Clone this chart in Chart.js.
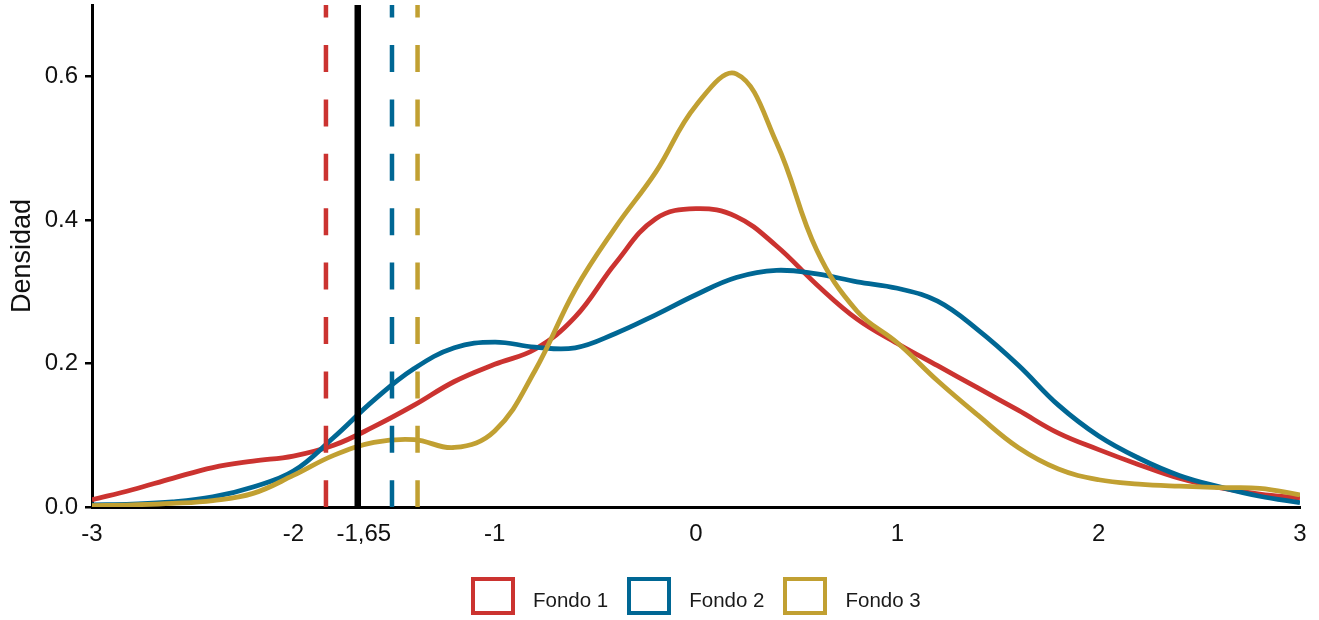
<!DOCTYPE html>
<html>
<head>
<meta charset="utf-8">
<script src="https://cdn.jsdelivr.net/npm/chart.js@4.4.1/dist/chart.umd.min.js"></script>
<style>
  html, body { margin: 0; padding: 0; background: #ffffff; }
  #wrap { position: relative; width: 1319px; height: 620px; overflow: hidden; }
  #legend { position: absolute; left: 471px; top: 577px; display: flex; align-items: center;
            font-family: "Liberation Sans", Arial, sans-serif; font-size: 20.5px; color: #1a1a1a; }
  .item { display: flex; align-items: center; margin-right: 19px; }
  .box { width: 36px; height: 30px; border: 4px solid; background: #fff; margin-right: 18px; }
  .item span { position: relative; top: 4px; }
</style>
</head>
<body>
<div id="wrap">
  <canvas id="c" width="1319" height="620"></canvas>
  <div id="legend"></div>
</div>
<script>
// ---- data ----
const xs = [-3, -2.8, -2.6, -2.4, -2.2, -2.0, -1.8, -1.6, -1.4, -1.2, -1.0, -0.8, -0.6, -0.4, -0.2,
            0, 0.2, 0.4, 0.6, 0.8, 1.0, 1.2, 1.4, 1.6, 1.8, 2.0, 2.2, 2.4, 2.6, 2.8, 3.0];
const fondo1 = [0.010, 0.024, 0.040, 0.055, 0.064, 0.071, 0.086, 0.112, 0.142, 0.175, 0.199, 0.220, 0.265, 0.340, 0.402,
                0.416, 0.405, 0.364, 0.310, 0.262, 0.228, 0.197, 0.166, 0.135, 0.103, 0.080, 0.059, 0.040, 0.027, 0.018, 0.0125];
const fondo2 = [0.003, 0.004, 0.007, 0.014, 0.028, 0.050, 0.097, 0.149, 0.193, 0.222, 0.230, 0.223, 0.222, 0.242, 0.268,
                0.296, 0.320, 0.330, 0.325, 0.314, 0.305, 0.287, 0.247, 0.198, 0.142, 0.099, 0.068, 0.044, 0.028, 0.015, 0.006];
const fondo3 = [0.002, 0.003, 0.005, 0.009, 0.019, 0.044, 0.072, 0.090, 0.094, 0.083, 0.106, 0.190, 0.303, 0.390, 0.467,
                0.560, 0.604, 0.508, 0.358, 0.273, 0.229, 0.176, 0.128, 0.083, 0.053, 0.038, 0.032, 0.029, 0.027, 0.026, 0.017];
const seriesNames = ['Fondo 1', 'Fondo 2', 'Fondo 3'];
const refValues = [-1.838, -1.68, -1.51, -1.383];   // Fondo 1 / umbral / Fondo 2 / Fondo 3
const xTickValues = [-3, -2, -1.65, -1, 0, 1, 2, 3];
const yTickValues = [0, 0.2, 0.4, 0.6];
const yMax = 0.70;

// ---- styles ----
const colors = ['#CB3330', '#006794', '#C1A032'];
const refColors = [colors[0], '#000000', colors[1], colors[2]];
const refDashed = [true, false, true, true];
const FONT = '"Liberation Sans", Arial, Helvetica, sans-serif';

const seriesValues = [fondo1, fondo2, fondo3];
const datasets = [];
refValues.forEach((v, i) => {
  datasets.push({
    label: 'ref' + i,
    data: [{x: v, y: yMax}, {x: v, y: 0}],
    borderColor: refColors[i],
    borderWidth: refDashed[i] ? 4.5 : 6.5,
    borderDash: refDashed[i] ? [27, 27.4] : [],
    borderDashOffset: refDashed[i] ? 14.4 : 0,
    pointRadius: 0,
    fill: false,
    order: 0,
    borderCapStyle: 'butt'
  });
});
seriesValues.forEach((vals, i) => {
  datasets.push({
    label: seriesNames[i],
    data: xs.map((x, k) => ({x: x, y: vals[k]})),
    borderColor: colors[i],
    borderWidth: 4.8,
    pointRadius: 0,
    fill: false,
    tension: 0.4,
    order: 3 - i
  });
});

new Chart(document.getElementById('c'), {
  type: 'line',
  data: { datasets: datasets },
  options: {
    responsive: false,
    animation: false,
    devicePixelRatio: 1,
    layout: { padding: { left: 0, right: 19, top: 5, bottom: 0 } },
    plugins: { legend: { display: false }, tooltip: { enabled: false } },
    scales: {
      x: {
        type: 'linear',
        min: -3, max: 3,
        afterBuildTicks: (s) => { s.ticks = xTickValues.map(v => ({value: v})); },
        afterFit: (s) => { s.height = 113; s.paddingLeft = 0; s.paddingRight = 0; },
        ticks: {
          autoSkip: false, maxRotation: 0, padding: 13, color: '#111',
          font: { family: FONT, size: 24 },
          callback: (v) => String(v).replace('.', ',')
        },
        grid: { drawOnChartArea: false, drawTicks: false },
        border: { display: true, color: '#000', width: 3 }
      },
      y: {
        type: 'linear',
        min: 0, max: yMax,
        afterBuildTicks: (s) => { s.ticks = yTickValues.map(v => ({value: v})); },
        afterFit: (s) => { s.width = 92; s.paddingTop = 0; s.paddingBottom = 0; },
        ticks: {
          padding: 7, color: '#111',
          font: { family: FONT, size: 24 },
          callback: (v) => Number(v).toFixed(1)
        },
        grid: { drawOnChartArea: false, drawTicks: true, tickLength: 7, color: '#000', lineWidth: 2.5 },
        border: { display: true, color: '#000', width: 3 },
        title: { display: true, text: 'Densidad', color: '#111',
                 font: { family: FONT, size: 27 }, padding: { top: 6, bottom: 0 } }
      }
    }
  }
});

// legend
const lg = document.getElementById('legend');
seriesNames.forEach((n, i) => {
  const it = document.createElement('div'); it.className = 'item';
  const b = document.createElement('div'); b.className = 'box'; b.style.borderColor = colors[i];
  const t = document.createElement('span'); t.textContent = n;
  it.appendChild(b); it.appendChild(t); lg.appendChild(it);
});
</script>
</body>
</html>
